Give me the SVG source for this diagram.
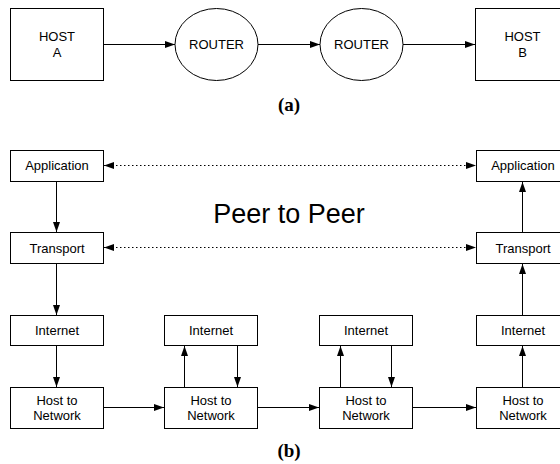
<svg xmlns="http://www.w3.org/2000/svg" width="560" height="464" viewBox="0 0 560 464">
<style>
.box{fill:#fff;stroke:#000;stroke-width:1}
.t{font-family:"Liberation Sans",Arial,sans-serif;font-size:13px;fill:#000;text-anchor:middle}
.lbl{font-family:"Liberation Serif","Times New Roman",serif;font-size:19px;font-weight:bold;fill:#000;text-anchor:middle}
.big{font-family:"Liberation Sans",Arial,sans-serif;font-size:27px;fill:#000;text-anchor:middle}
.c{stroke:#000;stroke-width:1;fill:none;marker-end:url(#ah)}
.d{stroke:#000;stroke-width:1;fill:none;stroke-dasharray:1.5 2.5;marker-end:url(#ah);marker-start:url(#ah)}
</style>
<defs>
<marker id="ah" markerUnits="userSpaceOnUse" markerWidth="10" markerHeight="8" refX="10" refY="3.5" orient="auto-start-reverse">
<path d="M0,0 L10,3.5 L0,7 z" fill="#000"/>
</marker>
</defs>
<rect width="560" height="464" fill="#fff"/>

<g id="hostA"><rect class="box" x="10.5" y="8.5" width="93" height="72"/><text class="t" x="57" y="41">HOST</text><text class="t" x="57" y="57">A</text></g>
<g id="router1"><ellipse class="box" cx="216.5" cy="44.5" rx="41.5" ry="36"/><text class="t" x="216.5" y="49">ROUTER</text></g>
<g id="router2"><ellipse class="box" cx="361.5" cy="44.5" rx="41.5" ry="36"/><text class="t" x="361.5" y="49">ROUTER</text></g>
<g id="hostB"><rect class="box" x="475.5" y="8.5" width="93" height="72"/><text class="t" x="522.5" y="41">HOST</text><text class="t" x="522.5" y="57">B</text></g>
<text id="labelA" class="lbl" x="289" y="111">(a)</text>

<g id="app1"><rect class="box" x="10.5" y="150.5" width="93" height="31"/><text class="t" x="57" y="170">Application</text></g>
<g id="trans1"><rect class="box" x="10.5" y="232.5" width="93" height="31"/><text class="t" x="57" y="253">Transport</text></g>
<g id="inet1"><rect class="box" x="10.5" y="315.5" width="93" height="30"/><text class="t" x="57" y="335">Internet</text></g>
<g id="h2n1"><rect class="box" x="10.5" y="387.5" width="93" height="41"/><text class="t" x="57" y="405">Host to</text><text class="t" x="57" y="420">Network</text></g>

<g id="inet2"><rect class="box" x="164.5" y="315.5" width="93" height="30"/><text class="t" x="211" y="335">Internet</text></g>
<g id="h2n2"><rect class="box" x="164.5" y="387.5" width="93" height="41"/><text class="t" x="211" y="405">Host to</text><text class="t" x="211" y="420">Network</text></g>

<g id="inet3"><rect class="box" x="319.5" y="315.5" width="93" height="30"/><text class="t" x="366" y="335">Internet</text></g>
<g id="h2n3"><rect class="box" x="319.5" y="387.5" width="93" height="41"/><text class="t" x="366" y="405">Host to</text><text class="t" x="366" y="420">Network</text></g>

<g id="app4"><rect class="box" x="476.5" y="150.5" width="93" height="31"/><text class="t" x="523" y="170">Application</text></g>
<g id="trans4"><rect class="box" x="476.5" y="232.5" width="93" height="31"/><text class="t" x="523" y="253">Transport</text></g>
<g id="inet4"><rect class="box" x="476.5" y="315.5" width="93" height="30"/><text class="t" x="523" y="335">Internet</text></g>
<g id="h2n4"><rect class="box" x="476.5" y="387.5" width="93" height="41"/><text class="t" x="523" y="405">Host to</text><text class="t" x="523" y="420">Network</text></g>

<text id="peer" class="big" x="289" y="223">Peer to Peer</text>
<text id="labelB" class="lbl" x="289" y="457">(b)</text>

<g id="connectors">
<line class="c" x1="104" y1="44.5" x2="175" y2="44.5"/>
<line class="c" x1="258" y1="44.5" x2="320" y2="44.5"/>
<line class="c" x1="403" y1="44.5" x2="475" y2="44.5"/>

<line class="d" x1="104" y1="165.5" x2="476" y2="165.5"/>
<line class="d" x1="104" y1="247.5" x2="476" y2="247.5"/>

<line class="c" x1="56.5" y1="181" x2="56.5" y2="232"/>
<line class="c" x1="56.5" y1="264" x2="56.5" y2="315"/>
<line class="c" x1="56.5" y1="346" x2="56.5" y2="387"/>

<line class="c" x1="104" y1="407.5" x2="164" y2="407.5"/>
<line class="c" x1="258" y1="407.5" x2="319" y2="407.5"/>
<line class="c" x1="413" y1="407.5" x2="476" y2="407.5"/>

<line class="c" x1="184.5" y1="387" x2="184.5" y2="346"/>
<line class="c" x1="237.5" y1="346" x2="237.5" y2="387"/>
<line class="c" x1="340.5" y1="387" x2="340.5" y2="346"/>
<line class="c" x1="391.5" y1="346" x2="391.5" y2="387"/>

<line class="c" x1="522.5" y1="387" x2="522.5" y2="346"/>
<line class="c" x1="522.5" y1="315" x2="522.5" y2="264"/>
<line class="c" x1="522.5" y1="232" x2="522.5" y2="182"/>
</g>
</svg>
